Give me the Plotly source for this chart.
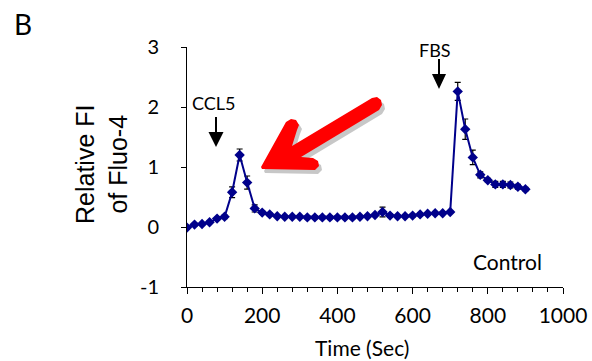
import plotly.graph_objects as go

# ---- data ----
time_sec = [0, 20, 40, 60, 80, 100, 120, 140, 160, 180, 200, 220, 240, 260, 280, 300,
            320, 340, 360, 380, 400, 420, 440, 460, 480, 500, 520, 540, 560, 580, 600,
            620, 640, 660, 680, 700, 720, 740, 760, 780, 800, 820, 840, 860, 880, 900]
relative_fi = [-0.01, 0.04, 0.05, 0.08, 0.14, 0.17, 0.58, 1.20, 0.74, 0.31, 0.24, 0.21, 0.18, 0.17, 0.17, 0.17,
               0.16, 0.16, 0.16, 0.16, 0.16, 0.16, 0.16, 0.17, 0.18, 0.20, 0.25, 0.19, 0.18, 0.18, 0.19,
               0.21, 0.22, 0.23, 0.23, 0.25, 2.26, 1.63, 1.16, 0.87, 0.78, 0.71, 0.71, 0.70, 0.67, 0.63]
sem = [0.02, 0.02, 0.02, 0.02, 0.02, 0.03, 0.09, 0.10, 0.11, 0.06, 0.03, 0.02, 0.02, 0.02, 0.02, 0.02,
       0.02, 0.02, 0.02, 0.02, 0.02, 0.02, 0.02, 0.02, 0.02, 0.02, 0.08, 0.03, 0.02, 0.02, 0.02,
       0.02, 0.02, 0.02, 0.02, 0.02, 0.15, 0.17, 0.12, 0.05, 0.03, 0.05, 0.05, 0.05, 0.04, 0.03]
x_ticks = [0, 200, 400, 600, 800, 1000]
y_ticks = [-1, 0, 1, 2, 3]

# ---- layout geometry (window pixels) ----
W, H = 592, 361
PL, PR, PT, PB = 187, 563, 47, 287   # plot area in window pixels
L, T, R, B = PL, PT, W - PR, H - PB
PW, PH = PR - PL, PB - PT
XR, YR = (0, 1000), (-1, 3)


def dx(px):
    return XR[0] + (px - PL) / PW * (XR[1] - XR[0])


def dy(py):
    return YR[1] - (py - PT) / PH * (YR[1] - YR[0])


def path(points, dxo=0, dyo=0):
    return "M " + " L ".join(f"{dx(x + dxo):.3f},{dy(y + dyo):.3f}" for x, y in points) + " Z"


def pxa(px):
    return (px - PL) / PW


def pya(py):
    return (PB - py) / PH


fig = go.Figure()
fig.add_trace(go.Scatter(
    x=time_sec, y=relative_fi,
    mode="lines+markers",
    line=dict(color="#00008B", width=2),
    marker=dict(symbol="diamond", size=8, color="#00008B"),
    error_y=dict(type="data", array=sem, visible=True, color="black", thickness=1.2, width=3),
    showlegend=False,
))

# red arrow polygon (window pixel coords of the decoration)
red_arrow = [(261, 167), (286, 122), (291, 119), (296, 120), (299, 125), (297, 130),
             (292, 146), (372, 98), (377, 97), (381, 100), (382, 105), (379, 110),
             (301, 157), (313, 158), (318, 161), (319, 166), (315, 170), (262, 169)]
shapes = [
    dict(type="path", path=path(red_arrow, 3, 4), fillcolor="rgba(0,0,0,0.22)", line=dict(width=0)),
    dict(type="path", path=path(red_arrow), fillcolor="#FF0000", line=dict(width=0)),
    # CCL5 arrow
    dict(type="line", x0=dx(216), y0=dy(117), x1=dx(216), y1=dy(133),
         line=dict(color="black", width=2)),
    dict(type="path", path=path([(208.5, 132), (223.5, 132), (216, 147)]),
         fillcolor="black", line=dict(width=0)),
    # FBS arrow
    dict(type="line", x0=dx(439), y0=dy(59), x1=dx(439), y1=dy(75),
         line=dict(color="black", width=2)),
    dict(type="path", path=path([(432, 74), (446, 74), (439, 89)]),
         fillcolor="black", line=dict(width=0)),
]

calibri = "Lato, Carlito, Calibri, sans-serif"


def label(text, px, py, size, family=calibri, angle=0):
    return dict(text=text, x=pxa(px), y=pya(py), xref="paper", yref="paper", showarrow=False,
                xanchor="center", yanchor="middle", textangle=angle,
                font=dict(family=family, size=size, color="black"))


annotations = [
    label("CCL5", 213, 103, 18),
    label("FBS", 435, 50, 18),
    label("Control", 507, 261, 21),
    label("B", 23, 24, 28),
    label("Time (Sec)", 362, 347, 21),
    label("Relative FI<br>of Fluo-4", 101, 165, 25, "Liberation Sans, Arial, sans-serif", -90),
]

fig.update_layout(
    width=W, height=H,
    margin=dict(l=L, r=R, t=T, b=B, pad=0, autoexpand=False),
    paper_bgcolor="white", plot_bgcolor="white",
    shapes=shapes, annotations=annotations,
    xaxis=dict(range=list(XR), tickvals=x_ticks, ticktext=[str(v) for v in x_ticks],
               automargin=False,
               showline=True, linecolor="black", linewidth=1, mirror=False,
               ticks="outside", ticklen=6, tickcolor="black", tickwidth=1,
               minor=dict(dtick=40, ticks="outside", ticklen=4, tickcolor="black", tickwidth=1),
               showgrid=False, zeroline=False,
               tickfont=dict(family=calibri, size=21, color="black"),
               ticklabelstandoff=4),
    yaxis=dict(range=list(YR), tickvals=y_ticks, ticktext=[str(v) for v in y_ticks],
               automargin=False,
               showline=True, linecolor="black", linewidth=1,
               ticks="outside", ticklen=5, tickcolor="black", tickwidth=1,
               showgrid=False, zeroline=False,
               tickfont=dict(family=calibri, size=20, color="black"),
               ticklabelstandoff=18),
)

fig.write_html(
    "out.html",
    config={"displayModeBar": False},
    post_script="document.body.style.margin='0';document.body.style.overflow='hidden';",
)
